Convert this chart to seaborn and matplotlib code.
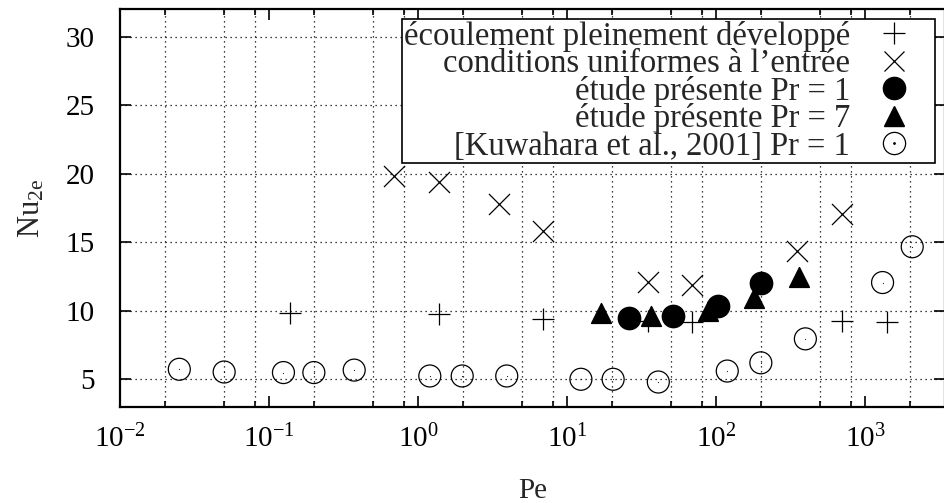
import numpy as np
import matplotlib
matplotlib.use("Agg")
import matplotlib.pyplot as plt
import seaborn as sns
from matplotlib.lines import Line2D
from matplotlib.ticker import LogLocator, NullFormatter

# écoulement pleinement développé (+)
pe_dev = [0.139, 1.38, 6.93, 35.2, 68.7, 697, 1400]
nu_dev = [9.84, 9.79, 9.43, 9.23, 9.16, 9.23, 9.16]

# conditions uniformes à l'entrée (x)
pe_unif = [0.693, 1.39, 3.5, 6.93, 34.8, 69.4, 347, 697]
nu_unif = [19.8, 19.39, 17.77, 15.83, 12.13, 11.89, 14.38, 17.05]

# étude présente Pr = 1
pe_pr1 = [26.1, 51.6, 103.5, 199.5]
nu_pr1 = [9.48, 9.6, 10.37, 12.0]

# étude présente Pr = 7
pe_pr7 = [16.8, 36.4, 89, 180, 362]
nu_pr7 = [9.84, 9.6, 9.96, 10.93, 12.5]

# [Kuwahara et al., 2001] Pr = 1
pe_kuw = [0.025, 0.05, 0.125, 0.2, 0.373, 1.2, 1.98, 3.94, 12.4, 20.4, 41,
          119, 200, 398, 1312, 2075]
nu_kuw = [5.73, 5.53, 5.49, 5.49, 5.67, 5.24, 5.24, 5.24, 5.0, 5.0, 4.8,
          5.6, 6.2, 7.95, 12.06, 14.67]

labels = ["écoulement pleinement développé",
          "conditions uniformes à l\u2019entrée",
          "étude présente Pr = 1",
          "étude présente Pr = 7",
          "[Kuwahara et al., 2001] Pr = 1"]

sns.set_style("ticks")
plt.rcParams["font.family"] = ["Liberation Serif", "DejaVu Serif"]
plt.rcParams["mathtext.fontset"] = "custom"
plt.rcParams["mathtext.rm"] = "Liberation Serif"
plt.rcParams["mathtext.it"] = "Liberation Serif:italic"

fig = plt.figure(figsize=(9.45, 5.03), dpi=100)
ax = fig.add_axes([0.127, 0.1915, 0.873, 0.79])

lw = 0.9
sns.scatterplot(x=pe_kuw, y=nu_kuw, marker="o", s=250, facecolors="none",
                edgecolors="black", linewidths=lw, ax=ax, zorder=3)
sns.scatterplot(x=pe_kuw, y=nu_kuw, marker=".", s=2, color="black",
                edgecolor="black", ax=ax, zorder=3)
sns.scatterplot(x=pe_dev, y=nu_dev, marker="+", s=260, color="black",
                linewidth=lw, ax=ax, zorder=3)
sns.scatterplot(x=pe_unif, y=nu_unif, marker="x", s=230, color="black",
                linewidth=lw, ax=ax, zorder=3)
sns.scatterplot(x=pe_pr1, y=nu_pr1, marker="o", s=250, color="black",
                edgecolor="black", ax=ax, zorder=4)
sns.scatterplot(x=pe_pr7, y=nu_pr7, marker="^", s=200, color="black",
                edgecolor="black", ax=ax, zorder=4)

ax.set_xscale("log")
ax.set_xlim(0.01, 10 ** 3.537)
ax.set_ylim(3, 32)
ax.set_yticks([5, 10, 15, 20, 25, 30])
ax.xaxis.set_major_locator(LogLocator(base=10, numticks=10))
ax.xaxis.set_minor_locator(LogLocator(base=10, subs=[2, 5, 8], numticks=20))
ax.xaxis.set_minor_formatter(NullFormatter())

ax.grid(False)
ax.grid(True, axis="x", which="minor", color="black", linestyle=(0, (1, 3)), linewidth=0.9)
ax.grid(True, axis="y", which="major", color="black", linestyle=(0, (1, 3)), linewidth=0.9)

ax.tick_params(which="both", direction="in", top=True, right=True, labelsize=21,
               color="black", labelcolor="black")
ax.tick_params(which="major", length=8, width=1.2)
ax.tick_params(which="minor", length=4, width=1.2)
ax.tick_params(axis="x", which="major", pad=13)
ax.tick_params(axis="y", which="major", pad=18)
for sp in ax.spines.values():
    sp.set_linewidth(1.6)
    sp.set_color("black")

ax.set_xlabel("Pe", fontsize=21, labelpad=18)
ax.set_ylabel("Nu$_{\\mathrm{2e}}$", fontsize=22, labelpad=14)

ms = 16
handles = [
    Line2D([], [], marker="+", color="black", linestyle="none", markersize=ms, markeredgewidth=lw),
    Line2D([], [], marker="x", color="black", linestyle="none", markersize=ms - 1, markeredgewidth=lw),
    Line2D([], [], marker="o", color="black", linestyle="none", markersize=ms),
    Line2D([], [], marker="^", color="black", linestyle="none", markersize=ms - 1),
    (Line2D([], [], marker="o", markerfacecolor="none", markeredgecolor="black",
            linestyle="none", markersize=ms, markeredgewidth=lw),
     Line2D([], [], marker=".", color="black", linestyle="none", markersize=2)),
]
leg = ax.legend(handles, labels, loc="upper right", markerfirst=False,
                fontsize=23.5, frameon=True, fancybox=False, framealpha=1,
                edgecolor="black", labelspacing=-0.1, handlelength=2.4,
                handletextpad=0.15, borderpad=0.05, borderaxespad=0.3)
leg.get_frame().set_linewidth(1.2)
leg.set_zorder(5)

fig.savefig("out.png", dpi=100)
